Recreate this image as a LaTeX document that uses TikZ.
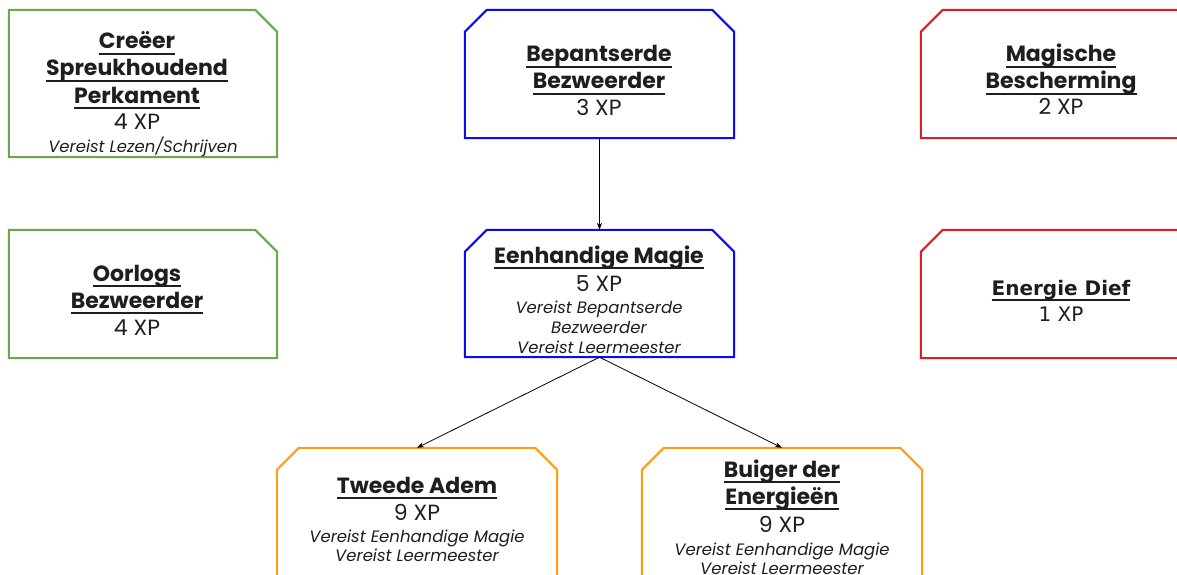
\documentclass[tikz,border=0pt]{standalone}
\usepackage{fontspec}
\setmainfont{Poppins}
\newfontfamily\dvs{DejaVu Sans}
\usetikzlibrary{arrows.meta,calc}
\definecolor{cgreen}{HTML}{6AA84F}
\definecolor{cblue}{HTML}{0A0AF5}
\definecolor{cred}{HTML}{DC1E24}
\definecolor{corange}{HTML}{FF9C14}
\definecolor{txt}{HTML}{1E1E1E}
\newcommand{\ulx}[1]{\setbox0=\hbox{#1}\rlap{\vrule height -3.8pt depth 5.8pt width \wd0}\box0}
\tikzset{
  frame/.style={draw=none, rectangle, inner sep=0pt},
  edge/.style={line width=2pt, line join=miter},
  ttl/.style={font=\bfseries\fontsize{22}{24}\selectfont, anchor=base, inner sep=0pt, text=txt},
  xp/.style={font=\fontsize{22}{24}\selectfont, anchor=base, inner sep=0pt, text=txt},
  req/.style={font=\itshape\fontsize{16.5}{18}\selectfont, anchor=base, inner sep=0pt, text=txt},
  ttlv/.style={font=\dvs\bfseries\fontsize{20}{22}\selectfont, anchor=base, inner sep=0pt, text=txt},
  xpv/.style={font=\dvs\fontsize{20}{22}\selectfont, anchor=base, inner sep=0pt, text=txt},
  conn/.style={line width=0.8pt, -{Stealth[length=7pt,width=5pt]}}
}
\begin{document}
\begin{tikzpicture}[x=1pt,y=-1pt]
\useasboundingbox (0,0) rectangle (1177,575);
\clip (0,0) rectangle (1177,575);
\fill[white] (0,0) rectangle (1177,575);
% frames
\node[frame, minimum width=268pt, minimum height=147pt] (g1) at (143,83.5) {};
\node[frame, minimum width=268pt, minimum height=128pt] (g2) at (143,294) {};
\node[frame, minimum width=269pt, minimum height=128pt] (b1) at (599.5,74) {};
\node[frame, minimum width=269pt, minimum height=127pt] (b2) at (599.5,293.5) {};
\node[frame, minimum width=300pt, minimum height=128pt] (r1) at (1071,74) {};
\node[frame, minimum width=300pt, minimum height=128pt] (r2) at (1071,294) {};
\node[frame, minimum width=280pt, minimum height=172pt] (o1) at (417,534) {};
\node[frame, minimum width=280pt, minimum height=172pt] (o2) at (782,534) {};
% green: north-east chamfer
\foreach \n in {g1,g2}{
  \draw[edge, cgreen] (\n.south west) -- (\n.north west) -- ($(\n.north east)+(-22,0)$) -- ($(\n.north east)+(0,22)$) -- (\n.south east) -- cycle;
}
% blue & orange: both top chamfers
\foreach \n/\c in {b1/cblue,b2/cblue,o1/corange,o2/corange}{
  \draw[edge, \c] (\n.south west) -- ($(\n.north west)+(0,22)$) -- ($(\n.north west)+(22,0)$) -- ($(\n.north east)+(-22,0)$) -- ($(\n.north east)+(0,22)$) -- (\n.south east) -- cycle;
}
% red: north-west chamfer
\foreach \n in {r1,r2}{
  \draw[edge, cred] (\n.south west) -- ($(\n.north west)+(0,22)$) -- ($(\n.north west)+(22,0)$) -- (\n.north east) -- (\n.south east) -- cycle;
}
% texts
\node[ttl] (g1a) at (137,49) {\ulx{Creëer}};
\node[ttl] (g1b) at (137,76) {\ulx{Spreukhoudend}};
\node[ttl] (g1c) at (137,103) {\ulx{Perkament}};
\node[xp]  (g1d) at (137,129) {4 XP};
\node[req] (g1e) at (143,152) {Vereist Lezen/Schrijven};

\node[ttl] (g2a) at (137,281) {\ulx{Oorlogs}};
\node[ttl] (g2b) at (137,308) {\ulx{Bezweerder}};
\node[xp]  (g2c) at (137,335) {4 XP};

\node[ttl] (b1a) at (599,62) {\ulx{Bepantserde}};
\node[ttl] (b1b) at (599,89) {\ulx{Bezweerder}};
\node[xp]  (b1c) at (599,116) {3 XP};

\node[ttl] (b2a) at (599,263) {\ulx{Eenhandige Magie}};
\node[xp]  (b2b) at (599,291) {5 XP};
\node[req] (b2c) at (599,313) {Vereist Bepantserde};
\node[req] (b2d) at (599,333) {Bezweerder};
\node[req] (b2e) at (599,353) {Vereist Leermeester};

\node[ttl] (r1a) at (1061,62) {\ulx{Magische}};
\node[ttl] (r1b) at (1061,89) {\ulx{Bescherming}};
\node[xp]  (r1c) at (1061,115) {2 XP};

\node[ttlv] (r2a) at (1061,295) {\ulx{Energie Dief}};
\node[xpv]  (r2b) at (1061,321) {1 XP};

\node[ttl] (o1a) at (417,493) {\ulx{Tweede Adem}};
\node[xp]  (o1b) at (417,520) {9 XP};
\node[req] (o1c) at (417,542) {Vereist Eenhandige Magie};
\node[req] (o1d) at (417,561) {Vereist Leermeester};

\node[ttl] (o2a) at (782,477) {\ulx{Buiger der}};
\node[ttl] (o2b) at (782,504) {\ulx{Energieën}};
\node[xp]  (o2c) at (782,532) {9 XP};
\node[req] (o2d) at (782,555) {Vereist Eenhandige Magie};
\node[req] (o2e) at (782,574) {Vereist Leermeester};
% connectors
\draw[conn] (b1.south) -- (b2.north);
\draw[conn] (b2.south) -- (o1.north);
\draw[conn] (b2.south) -- (o2.north);
\end{tikzpicture}
\end{document}
